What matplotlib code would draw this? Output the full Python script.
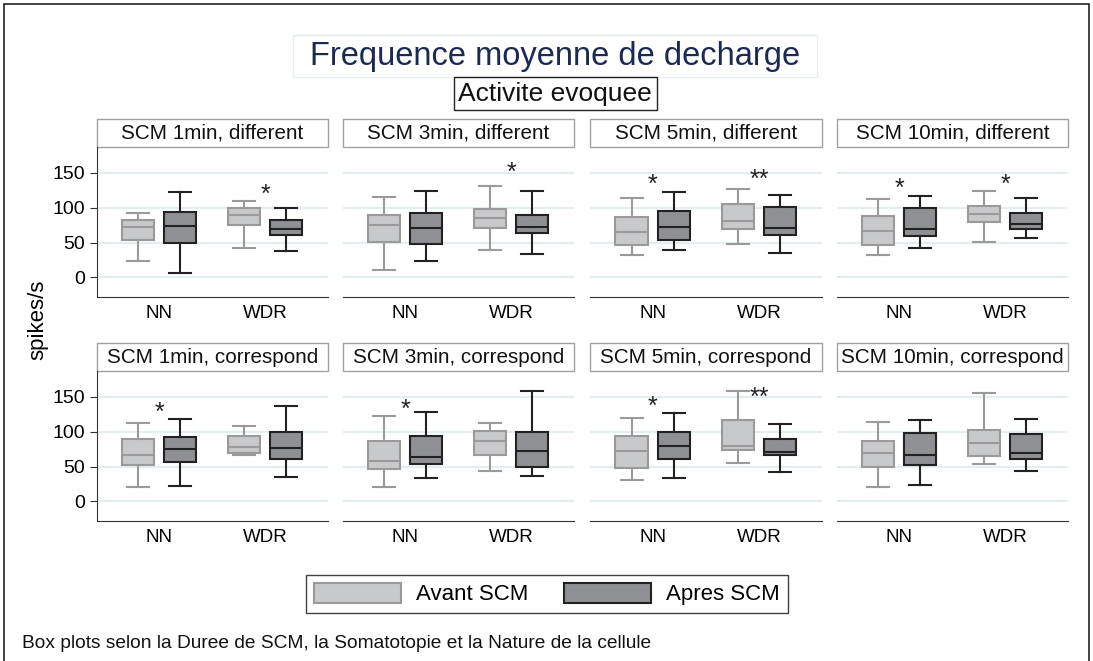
import numpy as np
import matplotlib.pyplot as plt
from matplotlib.patches import Rectangle

plt.rcParams['font.family'] = ['Liberation Sans', 'DejaVu Sans']

#====================DATA==========================
durations = ['1min', '3min', '5min', '10min']
somato = ['different', 'correspond']
cells = ['NN', 'WDR']

# one row per panel (different 1,3,5,10 then correspond 1,3,5,10), columns NN, WDR
avant_lo  = [[24, 42], [10, 40], [32, 48], [32, 51], [21, 66], [21, 43], [31, 55], [21, 53]]
avant_q1  = [[54, 75], [51, 71], [46, 70], [47, 79], [52, 70], [47, 67], [48, 74], [50, 65]]
avant_med = [[73, 89], [75, 85], [65, 81], [67, 91], [66, 78], [58, 86], [73, 80], [69, 84]]
avant_q3  = [[82, 99], [89, 98], [86, 105], [88, 102], [89, 94], [87, 101], [94, 117], [87, 102]]
avant_hi  = [[93, 110], [116, 131], [114, 127], [112, 124], [113, 108], [123, 112], [120, 158], [114, 156]]

apres_lo  = [[7, 38], [23, 34], [40, 35], [42, 56], [22, 35], [33, 37], [33, 42], [24, 43]]
apres_q1  = [[50, 61], [48, 64], [53, 61], [60, 69], [56, 61], [54, 50], [61, 66], [52, 61]]
apres_med = [[74, 70], [71, 72], [73, 71], [70, 77], [75, 76], [64, 72], [79, 71], [66, 69]]
apres_q3  = [[94, 82], [92, 90], [95, 101], [100, 92], [93, 100], [94, 100], [99, 89], [98, 96]]
apres_hi  = [[123, 100], [124, 124], [122, 118], [117, 114], [118, 137], [128, 158], [127, 111], [117, 118]]

# significance marks above each cell group
stars_txt = [['', '*'], ['', '*'], ['*', '**'], ['*', '*'], ['*', ''], ['*', ''], ['*', '**'], ['', '']]
stars_y   = [[0, 129], [0, 161], [144, 150], [138, 143], [138, 0], [142, 0], [147, 159], [0, 0]]

yticks = [0, 50, 100, 150]
#==================================================

W, H = 1093, 661
fig = plt.figure(figsize=(W / 100, H / 100), dpi=100)

def px_axes(x0, y0, x1, y1):
    return fig.add_axes([x0 / W, 1 - y1 / H, (x1 - x0) / W, (y1 - y0) / H])

def stats(lo, q1, med, q3, hi):
    return dict(whislo=lo, q1=q1, med=med, q3=q3, whishi=hi, fliers=[])

col_x = [(97, 328), (343, 574), (590, 822), (837, 1068)]
row_y = [(147, 297), (371, 521)]

avant_style = dict(fc='#c8c9cb', ec='#9a9a9a')
apres_style = dict(fc='#8f9093', ec='#222222')

group_c = [0.27, 0.728]
off = 0.091
bw = 0.1385
cw = 0.095
star_fs = 18

handles = []
for p in range(8):
    r, c = divmod(p, 4)
    ax = px_axes(col_x[c][0], row_y[r][0], col_x[c][1], row_y[r][1])
    ax.set_xlim(0, 1)
    ax.set_ylim(-28, 187)
    for y in yticks:
        ax.axhline(y, color='#e4eef1', lw=1.5, zorder=0)

    for series, st, dx in [('avant', avant_style, -off), ('apres', apres_style, off)]:
        src = (avant_lo, avant_q1, avant_med, avant_q3, avant_hi) if series == 'avant' else \
              (apres_lo, apres_q1, apres_med, apres_q3, apres_hi)
        bstats = [stats(*(a[p][g] for a in src)) for g in range(2)]
        lc = st['ec']
        res = ax.bxp(bstats, positions=[g + dx for g in group_c], widths=bw, capwidths=cw,
                     patch_artist=True, showfliers=False,
                     boxprops=dict(facecolor=st['fc'], edgecolor=lc, linewidth=1.5),
                     medianprops=dict(color=lc, linewidth=1.5),
                     whiskerprops=dict(color=lc, linewidth=1.5),
                     capprops=dict(color=lc, linewidth=1.5))
        if p == 0:
            handles.append(res['boxes'][0])

    for g in range(2):
        if stars_txt[p][g]:
            # asterisk glyph sits high, so drop the baseline to centre it on the value
            ax.annotate(stars_txt[p][g], xy=(group_c[g], stars_y[p][g]), xytext=(0, -0.58 * star_fs),
                        textcoords='offset points', ha='center', va='baseline',
                        fontsize=star_fs, color='#222222')

    ax.set_xticks(group_c)
    ax.set_xticklabels(cells, fontsize=13.5)
    ax.tick_params(axis='x', length=0, pad=6)
    for s in ['top', 'right']:
        ax.spines[s].set_visible(False)
    ax.spines['bottom'].set_color('#333333')
    if c == 0:
        ax.set_yticks(yticks)
        ax.tick_params(axis='y', labelsize=14, length=5, color='#333333')
        ax.spines['left'].set_color('#333333')
    else:
        ax.set_yticks([])
        ax.spines['left'].set_visible(False)

    # strip title
    sh = 28 / 150
    ax.add_patch(Rectangle((0, 1), 1, sh, transform=ax.transAxes, clip_on=False,
                           fc='white', ec='#a0a0a0', lw=1))
    ax.text(0.5, 1 + sh / 2, 'SCM %s, %s' % (durations[c], somato[r]), transform=ax.transAxes,
            ha='center', va='center', fontsize=14.9, color='#111111')

# titles
fig.patches.append(Rectangle((293 / W, 1 - 77 / H), (817 - 293) / W, 42 / H, transform=fig.transFigure,
                             fc='white', ec='#e6eef2', lw=1))
fig.text(555 / W, 1 - 56 / H, 'Frequence moyenne de decharge', ha='center', va='center',
         fontsize=23.5, color='#1a2a52')
fig.patches.append(Rectangle((454 / W, 1 - 110 / H), (657 - 454) / W, 33 / H, transform=fig.transFigure,
                             fc='white', ec='#222222', lw=1))
fig.text(555 / W, 1 - 93.5 / H, 'Activite evoquee', ha='center', va='center', fontsize=19, color='#111111')

fig.text(38 / W, 1 - 320 / H, 'spikes/s', rotation=90, ha='center', va='center', fontsize=16)

leg = fig.legend(handles, ['Avant SCM', 'Apres SCM'], ncol=2, loc='center',
                 bbox_to_anchor=(547 / W, 1 - 594 / H), fontsize=16, frameon=True, fancybox=False,
                 edgecolor='#111111', handlelength=3.9, handleheight=1.05, handletextpad=0.7,
                 columnspacing=1.6, borderpad=0.35)
leg.get_frame().set_linewidth(1)

fig.text(22 / W, 1 - 644 / H, 'Box plots selon la Duree de SCM, la Somatotopie et la Nature de la cellule',
         ha='left', va='center', fontsize=13.8, color='#111111')

# outer frame
fig.patches.append(Rectangle((4 / W, -0.05), (1089 - 4) / W, 1.05 - 4 / H, transform=fig.transFigure,
                             fill=False, ec='#222222', lw=1.2))

fig.savefig('out.png', dpi=100)
